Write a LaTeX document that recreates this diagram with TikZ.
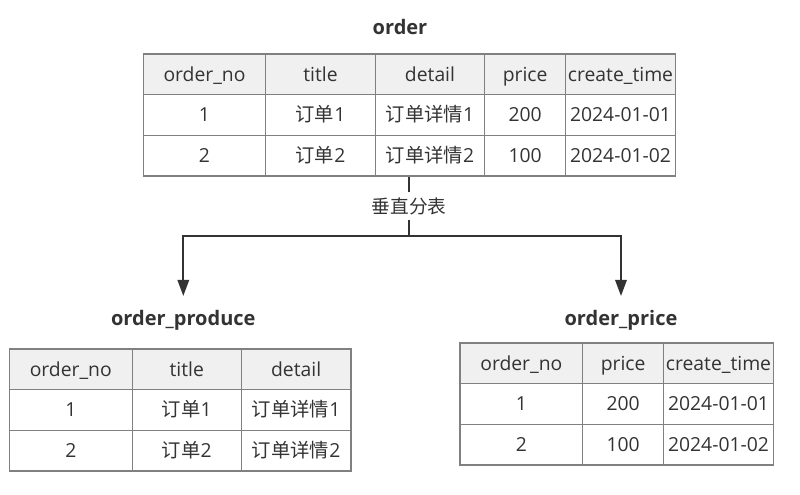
\documentclass[tikz,border=0pt]{standalone}
\usepackage{fontspec}
\setmainfont{Open Sans}
\newfontfamily\cjk{Noto Sans CJK SC}
\usetikzlibrary{arrows.meta}
\definecolor{txt}{HTML}{333333}
\definecolor{gridc}{HTML}{808080}
\definecolor{head}{HTML}{F0F0F0}
\begin{document}
\begin{tikzpicture}[x=0.75pt,y=-0.75pt]
\useasboundingbox (0,0) rectangle (800,495);
\tikzset{
  cell/.style={draw=gridc, line width=1pt, inner sep=0pt, minimum height=30.5pt,
    text=txt, font=\fontsize{14.5}{16}\selectfont, text height=1.15em, text depth=0.15em, anchor=center},
  hcell/.style={cell, fill=head},
  ttl/.style={text=txt, font=\fontsize{15}{18}\selectfont\bfseries},
  conn/.style={draw=txt, line width=1.5pt, line join=miter},
  tip/.style={-{Triangle[length=12pt,width=8.5pt]}},
  wa/.style={minimum width=91.8pt},
  wb/.style={minimum width=82.2pt},
  wc/.style={minimum width=82.05pt},
  wd/.style={minimum width=60.75pt},
}
% ---- top table: order
\node[ttl] (tOrder) at (400,27) {order};
\node[hcell,wa] (t11) at (204.5,74.35) {order\_no};
\node[hcell,wb] (t12) at (320.5,74.35) {title};
\node[hcell,wc] (t13) at (430,74.35) {detail};
\node[hcell,wd] (t14) at (525.2,74.35) {price};
\node[hcell,wb] (t15) at (620.5,74.35) {create\_time};
\node[cell,wa] (t21) at (204.5,115) {1};
\node[cell,wb] (t22) at (320.5,115) {{\cjk 订单}1};
\node[cell,wc] (t23) at (430,115) {{\cjk 订单详情}1};
\node[cell,wd] (t24) at (525.2,115) {200};
\node[cell,wb] (t25) at (620.5,115) {2024-01-01};
\node[cell,wa] (t31) at (204.5,155.65) {2};
\node[cell,wb] (t32) at (320.5,155.65) {{\cjk 订单}2};
\node[cell,wc] (t33) at (430,155.65) {{\cjk 订单详情}2};
\node[cell,wd] (t34) at (525.2,155.65) {100};
\node[cell,wb] (t35) at (620.5,155.65) {2024-01-02};
% ---- bottom left: order_produce
\node[ttl] (tProduce) at (183.3,320) {order\_produce};
\node[hcell,minimum width=92.25pt] (a11) at (70.8,369.35) {order\_no};
\node[hcell,minimum width=81.75pt] (a12) at (186.8,369.35) {title};
\node[hcell,minimum width=82.3pt] (a13) at (296.15,369.35) {detail};
\node[cell,minimum width=92.25pt] (a21) at (70.8,410) {1};
\node[cell,minimum width=81.75pt] (a22) at (186.8,410) {{\cjk 订单}1};
\node[cell,minimum width=82.3pt] (a23) at (296.15,410) {{\cjk 订单详情}1};
\node[cell,minimum width=92.25pt] (a31) at (70.8,450.65) {2};
\node[cell,minimum width=81.75pt] (a32) at (186.8,450.65) {{\cjk 订单}2};
\node[cell,minimum width=82.3pt] (a33) at (296.15,450.65) {{\cjk 订单详情}2};
% ---- bottom right: order_price
\node[ttl] (tPrice) at (621,320) {order\_price};
\node[hcell,minimum width=92pt] (b11) at (521.35,363.35) {order\_no};
\node[hcell,wd] (b12) at (623.2,363.35) {price};
\node[hcell,wb] (b13) at (718.5,363.35) {create\_time};
\node[cell,minimum width=92pt] (b21) at (521.35,404) {1};
\node[cell,wd] (b22) at (623.2,404) {200};
\node[cell,wb] (b23) at (718.5,404) {2024-01-01};
\node[cell,minimum width=92pt] (b31) at (521.35,444.65) {2};
\node[cell,wd] (b32) at (623.2,444.65) {100};
\node[cell,wb] (b33) at (718.5,444.65) {2024-01-02};
% ---- connector
\node[text=txt, font=\fontsize{14}{16}\selectfont, inner sep=0pt, minimum height=20pt] (lbl) at (409.3,206) {\cjk 垂直分表};
\coordinate (split) at (409.3,235.7);
\coordinate (ltip) at (183.3,296);
\coordinate (rtip) at (621,296);
\draw[conn] (lbl.north) -- (lbl.north |- t33.south);
\draw[conn] (lbl.south) -- (split);
\draw[conn,tip] (split) -| (ltip);
\draw[conn,tip] (split) -| (rtip);
\end{tikzpicture}
\end{document}
